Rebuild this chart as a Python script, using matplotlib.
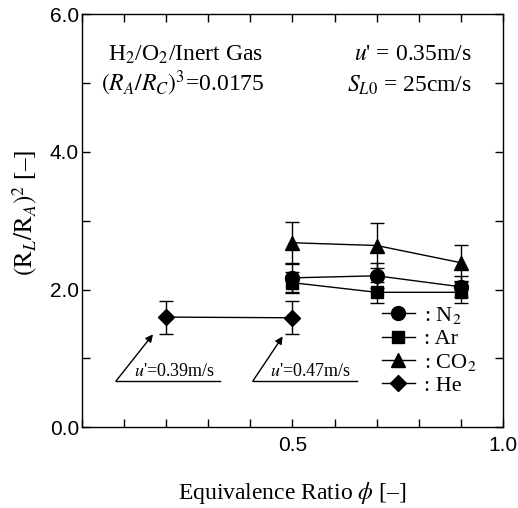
import matplotlib
matplotlib.use("Agg")
import matplotlib.pyplot as plt
from matplotlib.lines import Line2D
from matplotlib.ticker import MultipleLocator

plt.rcParams['font.family'] = ['Liberation Serif', 'DejaVu Serif']
plt.rcParams['mathtext.fontset'] = 'stix'

# data
phi_inert = [0.5, 0.7, 0.9]
n2 = [2.17, 2.20, 2.04]
n2_err = [0.20, 0.18, 0.15]
ar = [2.10, 1.96, 1.96]
ar_err = [0.15, 0.15, 0.15]
co2 = [2.68, 2.64, 2.39]
co2_err = [0.30, 0.32, 0.26]
phi_he = [0.2, 0.5]
he = [1.60, 1.59]
he_err = [0.24, 0.24]

fig = plt.figure(figsize=(5.18, 5.08), dpi=100)
ax = fig.add_axes([0.158, 0.159, 0.813, 0.813])

series = [(phi_inert, n2, n2_err, 'o'),
          (phi_inert, ar, ar_err, 's'),
          (phi_inert, co2, co2_err, '^'),
          (phi_he, he, he_err, 'D')]
sizes = {'o': 10, 's': 9, '^': 10, 'D': 8}
for x, y, e, m in series:
    ax.errorbar(x, y, yerr=e, color='black', marker=m, markersize=sizes[m],
                lw=1.0, elinewidth=1.0, capsize=5, capthick=1.0)

ax.set_xlim(0, 1.0)
ax.set_ylim(0, 6.0)
ax.set_xticks([0.5, 1.0])
ax.xaxis.set_minor_locator(MultipleLocator(0.1))
ax.set_yticks([0, 2, 4, 6])
ax.yaxis.set_minor_locator(MultipleLocator(1.0))
ax.tick_params(which='both', direction='in', top=True, right=True, width=1.0,
               length=6)
ax.set_xticklabels(['0.5', '1.0'])
ax.set_yticklabels(['0.0', '2.0', '4.0', '6.0'])
for lab in ax.get_xticklabels() + ax.get_yticklabels():
    lab.set_fontfamily('Liberation Sans')
    lab.set_fontsize(15)
ax.tick_params(axis='x', pad=6)
ax.tick_params(axis='y', pad=2)
for s in ax.spines.values():
    s.set_linewidth(1.0)

ax.set_xlabel(r'Equivalence Ratio $\phi$ [–]', fontsize=17, labelpad=18)
ax.set_ylabel(r'$(\mathrm{R}_L/\mathrm{R}_A)^2$ [–]', fontsize=18)
ax.yaxis.set_label_coords(-0.10, 0.52)

ax.text(0.062, 5.33, r'H$_2$/O$_2$/Inert Gas', fontsize=17)
ax.text(0.045, 4.88, r'$(R_A/R_C)^3$=0.0175', fontsize=17)
ax.text(0.926, 5.33, r"$u$' = 0.35m/s", fontsize=17, ha='right')
ax.text(0.926, 4.88, r'$S_{L0}$ = 25cm/s', fontsize=17, ha='right')

# annotations: underlined label with an arrow from its left end
annots = [(0.081, 0.328, 0.169, 1.35, 0.125, r"$u$'=0.39m/s"),
          (0.406, 0.653, 0.477, 1.32, 0.447, r"$u$'=0.47m/s")]
for x0, x1, xa, ya, xt, lab in annots:
    ax.plot([x0, x1], [0.67, 0.67], color='black', lw=1.0)
    ax.annotate('', xy=(xa, ya), xytext=(x0, 0.67),
                arrowprops=dict(arrowstyle='-|>', color='black', lw=1.0,
                                mutation_scale=11, shrinkA=0, shrinkB=0))
    ax.text(xt, 0.74, lab, fontsize=13)

handles = [Line2D([], [], color='black', marker=m, markersize=sizes[m], lw=1.0)
           for m in ['o', 's', '^', 'D']]
labels = [r': N$_2$', ': Ar', r': CO$_2$', ': He']
ax.legend(handles, labels, loc='lower left', bbox_to_anchor=(0.712, 0.075),
          frameon=False, fontsize=16, handlelength=1.5, handletextpad=0.4,
          labelspacing=0.12, borderaxespad=0.0, borderpad=0.0)

fig.savefig('out.png', dpi=100)
